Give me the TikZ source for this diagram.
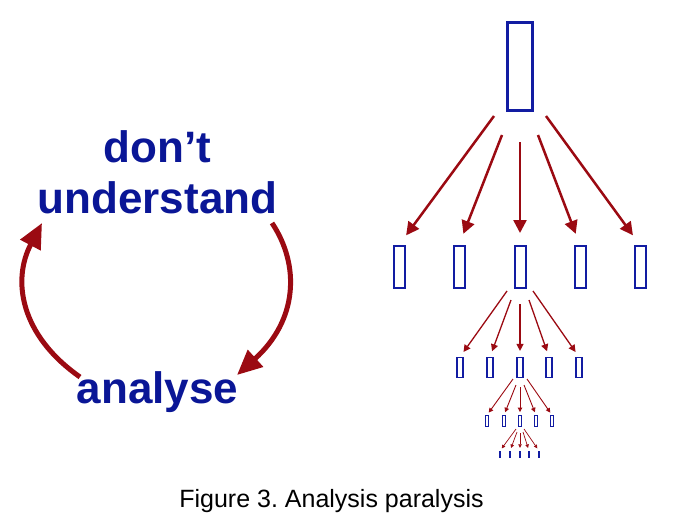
\documentclass[tikz,border=0pt]{standalone}
\usepackage{fontspec}
\setmainfont{Liberation Sans}
\usetikzlibrary{arrows.meta}
\definecolor{navy}{RGB}{10,22,150}
\definecolor{boxblue}{RGB}{18,28,162}
\definecolor{dred}{RGB}{155,10,18}
\frenchspacing
\begin{document}
\begin{tikzpicture}[x=1pt,y=-1pt,
  bx/.style={draw=boxblue, inner sep=0pt, fill=white},
  bar/.style={fill=boxblue, inner sep=0pt, minimum width=2pt, minimum height=7pt},
  arrA/.style={draw=dred, line width=2.5pt, -{Triangle[length=13pt,width=13pt]}, shorten >=12pt},
  arrB/.style={draw=dred, line width=1.3pt, -{Triangle[length=7pt,width=7pt]}, shorten >=6pt},
  arrC/.style={draw=dred, line width=0.9pt, -{Triangle[length=4.5pt,width=4.5pt]}, shorten >=3pt},
  arrD/.style={draw=dred, line width=0.7pt, -{Triangle[length=3.5pt,width=3.5pt]}, shorten >=3pt},
  cyc/.style={draw=dred, line width=5pt, -{Triangle[length=25pt,width=22pt]}},
  big/.style={text=navy, font=\bfseries\fontsize{44}{44}\selectfont, anchor=base, inner sep=0pt},
]
\useasboundingbox (0,0) rectangle (674,514);

% cycle text
\node[big] (dont) at (157.5,162) {don’t};
\node[big] (und) at (157.5,213) {understand};
\node[big] (ana) at (157.5,403) {analyse};
\coordinate (r0) at (272,223);
\coordinate (r1) at (237,375);
\coordinate (l0) at (80,377);
\coordinate (l1) at (42,223);
\draw[cyc] (r0) .. controls (300,265) and (298,320) .. (r1);
\draw[cyc] (l0) .. controls (20,335) and (12,280) .. (l1);

% tree
\node[bx, line width=3pt, minimum width=25pt, minimum height=88pt] (t) at (520,66.5) {};

\foreach \i/\x in {1/399,2/459,3/520,4/580,5/640}
  \node[bx, line width=2pt, minimum width=11pt, minimum height=42pt] (a\i) at (\x,267) {};
\foreach \i/\x/\y in {1/494/116,2/502/135,3/520/142,4/538/135,5/546/116}{
  \coordinate (sa\i) at (\x,\y);
  \draw[arrA] (sa\i) -- (a\i.north);
}

\foreach \i/\x in {1/460,2/490,3/520,4/549,5/579}
  \node[bx, line width=1.2pt, minimum width=6pt, minimum height=20pt] (b\i) at (\x,367.5) {};
\foreach \i/\x/\y in {1/507/291,2/511/300,3/520/304,4/529/300,5/533/291}{
  \coordinate (sb\i) at (\x,\y);
  \draw[arrB] (sb\i) -- (b\i.north);
}

\foreach \i/\x in {1/487,2/504,3/520,4/536,5/552}
  \node[bx, line width=0.9pt, minimum width=3pt, minimum height=11pt] (c\i) at (\x,421) {};
\foreach \i/\x/\y in {1/513/379,2/516/385,3/520/387,4/524/385,5/527/379}{
  \coordinate (sc\i) at (\x,\y);
  \draw[arrC] (sc\i) -- (c\i.north);
}

\foreach \i/\x in {1/500,2/510,3/520,4/529,5/539}
  \node[bar] (d\i) at (\x,454.5) {};
\foreach \i/\x/\y in {1/516/429,2/517/432,3/520/433,4/523/432,5/524/429}{
  \coordinate (sd\i) at (\x,\y);
  \draw[arrD] (sd\i) -- (d\i.north);
}

% caption
\node[anchor=base, inner sep=0pt, font=\fontsize{25}{25}\selectfont] (cap) at (331.5,507) {Figure 3. Analysis paralysis};
\end{tikzpicture}
\end{document}
